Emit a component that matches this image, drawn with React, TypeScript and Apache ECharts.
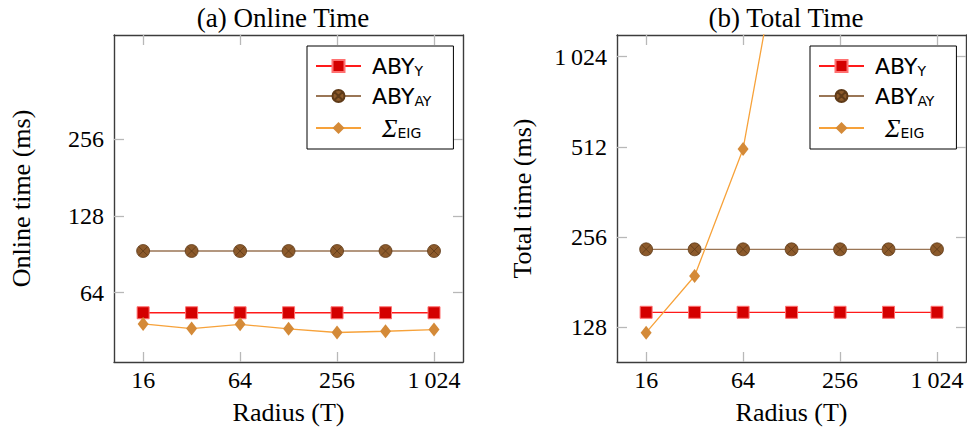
import React, { useEffect, useRef } from 'react';
import * as echarts from 'echarts';

const radius = [16, 32, 64, 128, 256, 512, 1024];
const onlineAbyY = [53.4, 53.4, 53.4, 53.4, 53.4, 53.4, 53.4];
const onlineAbyAY = [93.2, 93.2, 93.2, 93.2, 93.2, 93.2, 93.2];
const onlineEig = [48.3, 46.3, 48.1, 46.2, 44.7, 45.2, 45.9];
const totalAbyY = [143.6, 143.6, 143.6, 143.6, 143.6, 143.6, 143.6];
const totalAbyAY = [233, 233, 233, 233, 233, 233, 233];
const totalEig: (number | null)[] = [122.8, 189.8, 504, 3950, null, null, null];
const xTickValues = [16, 64, 256, 1024];
const onlineTickValues = [64, 128, 256];
const totalTickValues = [128, 256, 512, 1024];
const seriesNames = ['ABY_Y', 'ABY_AY', 'SIGMA_EIG'];

const SERIF = "'Liberation Serif', 'Times New Roman', serif";
const SANS = "'DejaVu Sans', sans-serif";

const fmtNum = (v: number) => (v >= 1000 ? String(v).replace(/(\d)(\d{3})$/, '$1\u2009$2') : String(v));

const pairs = (ys: (number | null)[]) =>
  radius.map((x, i) => [x, ys[i]] as [number, number | null]).filter((p) => p[1] !== null);

const OTIMES = 'path://M0,10A10,10 0 1,1 20,10A10,10 0 1,1 0,10Z M3,3L17,17 M17,3L3,17';

function makeSeries(grid: number, ys: (number | null)[][]) {
  const [y, ay, eig] = ys;
  return [
    {
      name: seriesNames[0],
      type: 'line',
      xAxisIndex: grid * 2,
      yAxisIndex: grid * 2,
      data: pairs(y),
      symbol: 'rect',
      symbolSize: 12,
      lineStyle: { color: '#ff1a1a', width: 1.3 },
      itemStyle: { color: '#d40000', borderColor: '#ff7070', borderWidth: 1 },
    },
    {
      name: seriesNames[1],
      type: 'line',
      xAxisIndex: grid * 2,
      yAxisIndex: grid * 2,
      data: pairs(ay),
      symbol: OTIMES,
      symbolSize: 13,
      lineStyle: { color: '#9a7656', width: 1.3 },
      itemStyle: { color: '#8c5a2b', borderColor: '#5e3a18', borderWidth: 0.8 },
    },
    {
      name: seriesNames[2],
      type: 'line',
      xAxisIndex: grid * 2,
      yAxisIndex: grid * 2,
      data: pairs(eig),
      symbol: 'diamond',
      symbolSize: [11, 14],
      lineStyle: { color: '#f7a23a', width: 1.3 },
      itemStyle: { color: '#d48a38', borderColor: '#d48a38', borderWidth: 0 },
    },
  ];
}

const tickStyle = { show: true, inside: true, length: 10, lineStyle: { color: '#b8b8b8', width: 1.3 } };
const lineStyle = { show: true, lineStyle: { color: '#3c3c3c', width: 1.4 } };

function xAxes(grid: number) {
  const base = { type: 'log', logBase: 2, gridIndex: grid, min: 10.55, max: 1550 };
  return [
    {
      ...base,
      position: 'bottom',
      axisLine: lineStyle,
      axisTick: { ...tickStyle, customValues: xTickValues },
      axisLabel: {
        customValues: xTickValues,
        margin: 6,
        fontFamily: SERIF,
        fontSize: 24,
        color: '#000',
        formatter: (v: number) => fmtNum(v),
      },
      splitLine: { show: false },
      name: 'Radius (T)',
      nameLocation: 'middle',
      nameGap: 37,
      nameTextStyle: { fontFamily: SERIF, fontSize: 26, color: '#000' },
    },
    {
      ...base,
      position: 'top',
      axisLine: lineStyle,
      axisTick: { ...tickStyle, customValues: xTickValues },
      axisLabel: { show: false },
      splitLine: { show: false },
    },
  ];
}

function yAxes(grid: number, min: number, max: number, ticks: number[], name: string, gap: number) {
  const base = { type: 'log', logBase: 2, gridIndex: grid, min, max };
  return [
    {
      ...base,
      position: 'left',
      axisLine: lineStyle,
      axisTick: { ...tickStyle, customValues: ticks },
      axisLabel: {
        customValues: ticks,
        margin: 10,
        fontFamily: SERIF,
        fontSize: 24,
        color: '#000',
        formatter: (v: number) => fmtNum(v),
      },
      splitLine: { show: false },
      name,
      nameLocation: 'middle',
      nameGap: gap,
      nameTextStyle: { fontFamily: SERIF, fontSize: 26, color: '#000' },
    },
    {
      ...base,
      position: 'right',
      axisLine: lineStyle,
      axisTick: { ...tickStyle, customValues: ticks },
      axisLabel: { show: false },
      splitLine: { show: false },
    },
  ];
}

const legendFormatter = (name: string) => {
  if (name === 'ABY_Y') return '{m|ABY}{s|Y}';
  if (name === 'ABY_AY') return '{m|ABY}{s|AY}';
  return '{g|Σ}{s|EIG}';
};

function legend(left: number) {
  return {
    show: true,
    orient: 'vertical',
    left,
    top: 46,
    padding: [9, 22, 8, 8],
    itemGap: 7,
    itemWidth: 45,
    itemHeight: 15,
    backgroundColor: '#fff',
    borderColor: '#000',
    borderWidth: 1,
    borderRadius: 0,
    data: seriesNames,
    formatter: legendFormatter,
    textStyle: {
      color: '#000',
      fontFamily: SANS,
      rich: {
        m: { fontFamily: SANS, fontSize: 22, lineHeight: 24, color: '#000', padding: [0, 0, 0, 6] },
        s: { fontFamily: SANS, fontSize: 14, lineHeight: 16, verticalAlign: 'bottom', color: '#000' },
        g: {
          fontFamily: SERIF,
          fontStyle: 'italic',
          fontSize: 26,
          lineHeight: 24,
          color: '#000',
          padding: [0, 0, 0, 16],
        },
      },
    },
  };
}

export default function App() {
  const ref = useRef<HTMLDivElement>(null);
  useEffect(() => {
    if (!ref.current) return;
    const chart = echarts.init(ref.current, null, { renderer: 'svg' });
    chart.setOption({
      animation: false,
      backgroundColor: '#fff',
      textStyle: { fontFamily: SERIF },
      grid: [
        { left: 114, top: 35, width: 349, height: 327, outerBoundsMode: 'none' },
        { left: 617, top: 35, width: 349, height: 327, outerBoundsMode: 'none' },
      ],
      xAxis: [...xAxes(0), ...xAxes(1)],
      yAxis: [
        ...yAxes(0, 34.25, 654, onlineTickValues, 'Online time (ms)', 80),
        ...yAxes(1, 98, 1210, totalTickValues, 'Total time (ms)', 82),
      ],
      legend: [legend(307), legend(810)],
      series: [
        ...makeSeries(0, [onlineAbyY, onlineAbyAY, onlineEig]),
        ...makeSeries(1, [totalAbyY, totalAbyAY, totalEig]),
      ],
      graphic: [
        {
          type: 'text',
          x: 283,
          y: 18,
          style: {
            text: '(a) Online Time',
            fontFamily: SERIF,
            fontSize: 27,
            fill: '#000',
            textAlign: 'center',
            textVerticalAlign: 'middle',
          },
        },
        {
          type: 'text',
          x: 786,
          y: 18,
          style: {
            text: '(b) Total Time',
            fontFamily: SERIF,
            fontSize: 27,
            fill: '#000',
            textAlign: 'center',
            textVerticalAlign: 'middle',
          },
        },
      ],
    });
    return () => chart.dispose();
  }, []);
  return <div ref={ref} style={{ position: 'absolute', left: 0, top: 0, width: 967, height: 429 }} />;
}
